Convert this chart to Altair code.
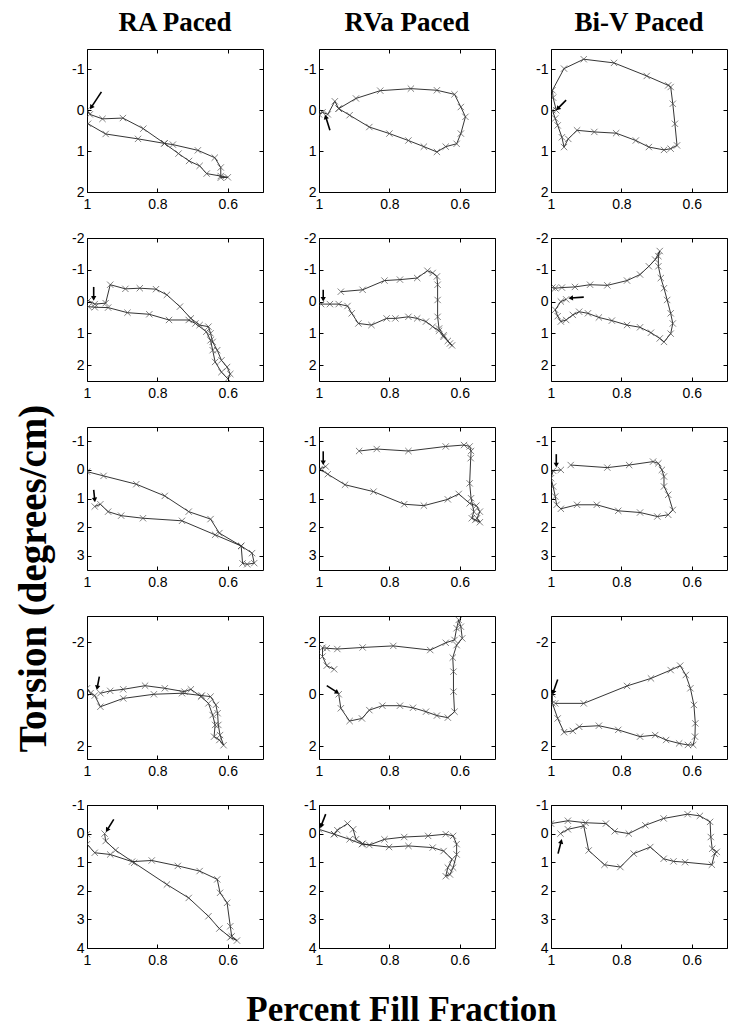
import math
import altair as alt
import pandas as pd

# ---------------- text ----------------
COLUMN_TITLES = ["RA Paced", "RVa Paced", "Bi-V Paced"]
X_TITLE = "Percent Fill Fraction"
Y_TITLE = "Torsion (degrees/cm)"

# ---------------- axes ----------------
X_DOMAIN = [0.5, 1.0]
X_TICKS = [1.0, 0.8, 0.6]
Y_DOMAINS = [[-1.5, 2], [-2, 2.5], [-1.5, 3.5], [-3, 2.5], [-1, 4]]
Y_TICKS = [[-1, 0, 1, 2], [-2, -1, 0, 1, 2], [-1, 0, 1, 2, 3], [-2, 0, 2], [-1, 0, 1, 2, 3, 4]]

# ---------------- data: row 1 ----------------
RA1_X = [1.0, 0.992, 0.956, 0.898, 0.84, 0.78, 0.74, 0.71, 0.68, 0.66, 0.62, 0.60, 0.62, 0.62, 0.637, 0.685, 0.756, 0.78, 0.855, 0.947, 0.997]
RA1_Y = [0.0, 0.1, 0.21, 0.19, 0.45, 0.81, 1.06, 1.24, 1.36, 1.55, 1.61, 1.64, 1.65, 1.4, 1.16, 0.98, 0.84, 0.81, 0.70, 0.58, 0.33]
RA1_ARROW = [0.959, -0.45, 0.988, -0.07]

RV1_X = [1.0, 0.99, 0.975, 0.955, 0.944, 0.895, 0.826, 0.739, 0.665, 0.615, 0.597, 0.584, 0.597, 0.609, 0.64, 0.665, 0.702, 0.746, 0.80, 0.857, 0.913, 0.944]
RV1_Y = [0.1, 0.05, 0.1, -0.22, -0.04, -0.29, -0.48, -0.53, -0.49, -0.39, -0.08, 0.16, 0.57, 0.82, 0.89, 1.02, 0.89, 0.74, 0.57, 0.41, 0.12, -0.04]
RV1_ARROW = [0.969, 0.49, 0.981, 0.16]

BV1_X = [0.985, 0.994, 0.996, 0.963, 0.907, 0.821, 0.728, 0.667, 0.66, 0.654, 0.648, 0.642, 0.66, 0.679, 0.722, 0.759, 0.815, 0.877, 0.926, 0.951, 0.963, 0.969, 0.981, 0.988, 0.996]
BV1_Y = [0.0, -0.31, -0.49, -1.02, -1.25, -1.16, -0.84, -0.61, -0.57, -0.16, 0.33, 0.86, 0.94, 0.97, 0.9, 0.74, 0.56, 0.53, 0.49, 0.7, 0.9, 0.66, 0.37, 0.2, 0.0]
BV1_ARROW = [0.957, -0.25, 0.981, -0.04]

# ---------------- data: row 2 ----------------
RA2_X = [0.996, 0.978, 0.947, 0.934, 0.891, 0.85, 0.804, 0.773, 0.736, 0.705, 0.68, 0.655, 0.649, 0.643, 0.63, 0.618, 0.602, 0.593, 0.60, 0.618, 0.636, 0.643, 0.649, 0.661, 0.692, 0.711, 0.767, 0.823, 0.885, 0.94, 0.978, 0.996]
RA2_Y = [-0.03, 0.08, 0.05, -0.53, -0.40, -0.42, -0.39, -0.21, 0.16, 0.53, 0.74, 0.79, 1.0, 1.27, 1.53, 1.85, 2.06, 2.28, 2.43, 2.22, 1.9, 1.53, 1.22, 0.95, 0.69, 0.58, 0.58, 0.40, 0.35, 0.19, 0.18, 0.16]
RA2_ARROW = [0.981, -0.46, 0.981, -0.1]

RV2_X = [0.994, 0.969, 0.944, 0.919, 0.907, 0.888, 0.851, 0.808, 0.783, 0.746, 0.721, 0.696, 0.677, 0.659, 0.646, 0.634, 0.622, 0.628, 0.646, 0.659, 0.663, 0.663, 0.663, 0.665, 0.677, 0.692, 0.721, 0.770, 0.814, 0.876, 0.938]
RV2_Y = [0.08, 0.08, 0.08, 0.14, 0.37, 0.69, 0.74, 0.53, 0.53, 0.48, 0.53, 0.63, 0.79, 0.92, 1.11, 1.24, 1.38, 1.32, 1.06, 0.85, 0.48, -0.05, -0.53, -0.79, -0.9, -0.97, -0.74, -0.69, -0.66, -0.37, -0.31]
RV2_ARROW = [0.988, -0.37, 0.988, -0.07]

BV2_X = [0.957, 0.972, 0.988, 0.981, 0.972, 0.957, 0.938, 0.92, 0.895, 0.864, 0.827, 0.784, 0.747, 0.716, 0.691, 0.679, 0.66, 0.654, 0.66, 0.67, 0.679, 0.688, 0.695, 0.695, 0.691, 0.704, 0.722, 0.747, 0.784, 0.84, 0.889, 0.932, 0.969, 0.988, 0.996]
BV2_Y = [-0.07, 0.0, 0.26, 0.46, 0.63, 0.58, 0.42, 0.32, 0.37, 0.5, 0.6, 0.74, 0.81, 0.98, 1.16, 1.27, 1.01, 0.69, 0.37, -0.05, -0.42, -0.74, -1.11, -1.43, -1.59, -1.32, -1.11, -0.85, -0.66, -0.51, -0.53, -0.46, -0.44, -0.42, -0.44]
BV2_ARROW = [0.907, -0.14, 0.944, -0.11]

# ---------------- data: row 3 ----------------
RA3_X = [0.978, 0.962, 0.94, 0.903, 0.841, 0.73, 0.636, 0.562, 0.558, 0.545, 0.525, 0.531, 0.562, 0.624, 0.649, 0.711, 0.779, 0.86, 0.953, 1.0]
RA3_Y = [1.28, 1.2, 1.46, 1.6, 1.69, 1.78, 2.27, 2.66, 3.27, 3.3, 3.26, 2.91, 2.66, 2.21, 1.72, 1.46, 0.91, 0.5, 0.21, 0.06]
RA3_ARROW = [0.981, 0.7, 0.978, 1.05]

RV3_X = [0.981, 0.998, 0.975, 0.926, 0.845, 0.758, 0.702, 0.634, 0.603, 0.572, 0.553, 0.543, 0.551, 0.543, 0.556, 0.566, 0.56, 0.568, 0.572, 0.569, 0.568, 0.572, 0.588, 0.64, 0.746, 0.836, 0.886]
RV3_Y = [-0.12, -0.03, 0.15, 0.52, 0.76, 1.2, 1.25, 1.03, 0.84, 1.17, 1.25, 1.46, 1.69, 1.83, 1.75, 1.69, 1.46, 0.99, 0.47, -0.41, -0.66, -0.82, -0.87, -0.82, -0.66, -0.73, -0.66]
RV3_ARROW = [0.988, -0.65, 0.988, -0.25]

BV3_X = [0.972, 0.994, 1.0, 0.994, 0.988, 0.984, 0.972, 0.926, 0.87, 0.809, 0.747, 0.698, 0.667, 0.654, 0.667, 0.679, 0.679, 0.685, 0.695, 0.71, 0.778, 0.84, 0.944]
BV3_Y = [0.0, 0.03, 0.29, 0.58, 0.93, 1.22, 1.36, 1.22, 1.22, 1.43, 1.49, 1.63, 1.57, 1.4, 0.87, 0.58, 0.23, 0.0, -0.23, -0.29, -0.17, -0.08, -0.17]
BV3_ARROW = [0.985, -0.55, 0.985, -0.17]

# ---------------- data: row 4 ----------------
RA4_X = [0.962, 0.934, 0.897, 0.835, 0.779, 0.723, 0.705, 0.676, 0.655, 0.643, 0.636, 0.639, 0.624, 0.612, 0.622, 0.627, 0.629, 0.634, 0.649, 0.674, 0.73, 0.81, 0.897, 0.962, 0.978, 0.99, 1.0]
RA4_Y = [-0.03, -0.12, -0.18, -0.32, -0.22, -0.09, -0.18, 0.1, 0.36, 0.81, 1.19, 1.64, 1.77, 1.97, 1.58, 1.19, 0.74, 0.42, 0.1, 0.06, -0.03, 0.01, 0.17, 0.49, 0.06, -0.03, -0.22]
RA4_ARROW = [0.965, -0.67, 0.971, -0.24]

RV4_X = [0.944, 0.938, 0.913, 0.878, 0.857, 0.82, 0.77, 0.733, 0.696, 0.665, 0.634, 0.615, 0.618, 0.618, 0.620, 0.609, 0.593, 0.597, 0.603, 0.609, 0.615, 0.64, 0.684, 0.789, 0.876, 0.948, 0.978, 0.99, 0.99, 0.978, 0.957]
RV4_Y = [0.01, 0.55, 1.04, 0.94, 0.62, 0.45, 0.45, 0.53, 0.68, 0.83, 0.91, 0.68, -0.09, -0.86, -1.4, -1.88, -2.14, -2.59, -2.85, -2.53, -2.08, -1.97, -1.69, -1.85, -1.79, -1.73, -1.76, -1.78, -1.44, -1.09, -0.95]
RV4_ARROW = [0.978, -0.32, 0.948, -0.06]

BV4_X = [0.996, 0.996, 0.981, 0.963, 0.938, 0.92, 0.864, 0.809, 0.747, 0.704, 0.673, 0.636, 0.611, 0.596, 0.591, 0.590, 0.594, 0.604, 0.617, 0.633, 0.66, 0.716, 0.784, 0.907, 0.988]
BV4_Y = [0.01, 0.36, 0.94, 1.47, 1.42, 1.26, 1.22, 1.38, 1.64, 1.58, 1.77, 1.9, 1.96, 1.96, 1.64, 1.13, 0.42, -0.22, -0.73, -1.09, -0.92, -0.6, -0.31, 0.36, 0.36]
BV4_ARROW = [0.981, -0.56, 0.994, -0.06]

# ---------------- data: row 5 ----------------
RA5_X = [0.95, 0.947, 0.919, 0.866, 0.773, 0.711, 0.655, 0.624, 0.593, 0.574, 0.589, 0.593, 0.602, 0.622, 0.63, 0.68, 0.742, 0.816, 0.872, 0.934, 0.978, 1.0, 1.0]
RA5_Y = [0.0, 0.26, 0.58, 1.02, 1.78, 2.25, 2.89, 3.32, 3.63, 3.74, 3.59, 3.24, 2.42, 2.07, 1.6, 1.31, 1.13, 0.94, 0.98, 0.73, 0.67, 0.37, 0.02]
RA5_ARROW = [0.924, -0.5, 0.943, -0.12]

RV5_X = [1.0, 0.957, 0.913, 0.878, 0.801, 0.746, 0.677, 0.646, 0.622, 0.634, 0.64, 0.628, 0.619, 0.609, 0.609, 0.619, 0.64, 0.69, 0.758, 0.814, 0.857, 0.876, 0.895, 0.903, 0.919, 0.948, 0.957]
RV5_Y = [-0.15, 0.02, 0.2, 0.37, 0.47, 0.43, 0.49, 0.61, 0.9, 1.19, 1.49, 1.43, 1.19, 0.73, 0.37, 0.08, 0.02, 0.08, 0.12, 0.2, 0.4, 0.35, 0.2, -0.15, -0.35, -0.12, 0.02]
RV5_ARROW = [0.981, -0.68, 0.994, -0.27]

BV5_X = [0.973, 0.952, 0.907, 0.893, 0.848, 0.803, 0.765, 0.718, 0.68, 0.652, 0.619, 0.543, 0.535, 0.529, 0.542, 0.546, 0.548, 0.577, 0.612, 0.68, 0.732, 0.779, 0.819, 0.844, 0.902, 0.952, 1.0]
BV5_Y = [0.0, -0.15, -0.27, 0.59, 1.09, 1.17, 0.7, 0.47, 0.88, 0.97, 1.0, 1.09, 0.7, 0.64, 0.53, 0.12, -0.41, -0.62, -0.68, -0.53, -0.29, 0.0, -0.08, -0.35, -0.38, -0.45, -0.35]
BV5_ARROW = [0.98, 0.7, 0.971, 0.27]

PANELS = [
    [(RA1_X, RA1_Y, RA1_ARROW), (RV1_X, RV1_Y, RV1_ARROW), (BV1_X, BV1_Y, BV1_ARROW)],
    [(RA2_X, RA2_Y, RA2_ARROW), (RV2_X, RV2_Y, RV2_ARROW), (BV2_X, BV2_Y, BV2_ARROW)],
    [(RA3_X, RA3_Y, RA3_ARROW), (RV3_X, RV3_Y, RV3_ARROW), (BV3_X, BV3_Y, BV3_ARROW)],
    [(RA4_X, RA4_Y, RA4_ARROW), (RV4_X, RV4_Y, RV4_ARROW), (BV4_X, BV4_Y, BV4_ARROW)],
    [(RA5_X, RA5_Y, RA5_ARROW), (RV5_X, RV5_Y, RV5_ARROW), (BV5_X, BV5_Y, BV5_ARROW)],
]

# ---------------- styling ----------------
W, H = 176, 143
SANS = "Liberation Sans"
SERIF = "Liberation Serif"
XMARK = "M -1 -1 L 1 1 M -1 1 L 1 -1"
X_LABELS = "datum.value == 1 ? '1' : format(datum.value, '.1f')"
Y_LABELS = "datum.value < 0 ? '-' + format(-datum.value, 'd') : format(datum.value, 'd')"

AXIS_STYLE = dict(
    labelFont=SANS, labelFontSize=14, labelColor="black",
    tickColor="black", tickSize=4, tickWidth=1, offset=-4,
    domain=False, grid=False, labelFlush=False, labelOverlap=False,
)
MIRROR_STYLE = dict(
    labels=False, tickColor="black", tickSize=4, tickWidth=1, offset=-4,
    domain=False, grid=False,
)


def make_panel(r, c):
    xs, ys, arrow = PANELS[r][c]
    ydom = Y_DOMAINS[r]
    span = ydom[1] - ydom[0]

    df = pd.DataFrame({"x": xs, "y": ys, "i": list(range(len(xs)))})
    tx, ty, hx, hy = arrow
    dxp = -(hx - tx) * W / (X_DOMAIN[1] - X_DOMAIN[0])
    dyp = (hy - ty) * H / span
    ang = math.degrees(math.atan2(dxp, -dyp)) % 360
    adf = pd.DataFrame({"tx": [tx], "ty": [ty], "hx": [hx], "hy": [hy], "ang": [ang]})

    xsc = alt.Scale(domain=X_DOMAIN, reverse=True, nice=False, zero=False)
    ysc = alt.Scale(domain=ydom, reverse=True, nice=False, zero=False)

    x_kw = dict(values=X_TICKS, labelExpr=X_LABELS, labelPadding=5, **AXIS_STYLE)
    y_kw = dict(values=Y_TICKS[r], labelExpr=Y_LABELS, labelPadding=3, **AXIS_STYLE)
    xtitle = None
    ytitle = None
    if r == 4 and c == 1:
        xtitle = X_TITLE
        x_kw.update(titleFont=SERIF, titleFontSize=35, titleFontWeight="bold", titleColor="black",
                    titleX=82, titleY=76, titleAlign="center", titleBaseline="alphabetic")
    if r == 2 and c == 0:
        ytitle = Y_TITLE
        y_kw.update(titleFont=SERIF, titleFontSize=39, titleFontWeight="bold", titleColor="black",
                    titleX=-58, titleY=151, titleAngle=270, titleAlign="center", titleBaseline="middle")
    xax = alt.Axis(**x_kw)
    yax = alt.Axis(**y_kw)
    xmir = alt.Axis(orient="top", values=X_TICKS, **MIRROR_STYLE)
    ymir = alt.Axis(orient="right", values=Y_TICKS[r], **MIRROR_STYLE)

    def X(f, axis=None, title=None):
        return alt.X(f, type="quantitative", scale=xsc, axis=axis, title=title)

    def Y(f, axis=None, title=None):
        return alt.Y(f, type="quantitative", scale=ysc, axis=axis, title=title)

    line = alt.Chart(df).mark_line(color="#1e1e1e", strokeWidth=0.9, clip=True).encode(
        x=X("x", xax, xtitle), y=Y("y", yax, ytitle), order=alt.Order("i:Q")
    )
    pts = alt.Chart(df).mark_point(shape=XMARK, filled=False, color="#3a3a3a",
                                   strokeWidth=0.9, size=40, clip=True).encode(
        x=X("x", xmir), y=Y("y", ymir)
    )
    shaft = alt.Chart(adf).mark_rule(color="black", strokeWidth=1.6, clip=True).encode(
        x=X("tx"), y=Y("ty"), x2="hx:Q", y2="hy:Q"
    )
    head = alt.Chart(adf).mark_point(shape="triangle-up", filled=True, color="black",
                                     size=28, opacity=1, clip=True).encode(
        x=X("hx"), y=Y("hy"), angle=alt.Angle("ang:Q", scale=None)
    )
    layer = alt.layer(line, pts, shaft, head).resolve_axis(
        x="independent", y="independent"
    ).properties(width=W, height=H)
    if r == 0:
        layer = layer.properties(title=alt.TitleParams(
            COLUMN_TITLES[c], font=SERIF, fontSize=27, fontWeight="bold", color="black",
            anchor="middle", offset=-9, baseline="alphabetic"))
    return layer


panels = [make_panel(r, c) for r in range(5) for c in range(3)]

chart = alt.concat(
    *panels, columns=3, spacing={"row": 46, "column": 56}, bounds="flush"
).properties(
    padding={"left": 5, "top": 0, "right": 5, "bottom": 5},
    background="white",
).configure_view(stroke="black", strokeWidth=1)

chart.save("out.html", embed_options={"renderer": "svg", "actions": False})
